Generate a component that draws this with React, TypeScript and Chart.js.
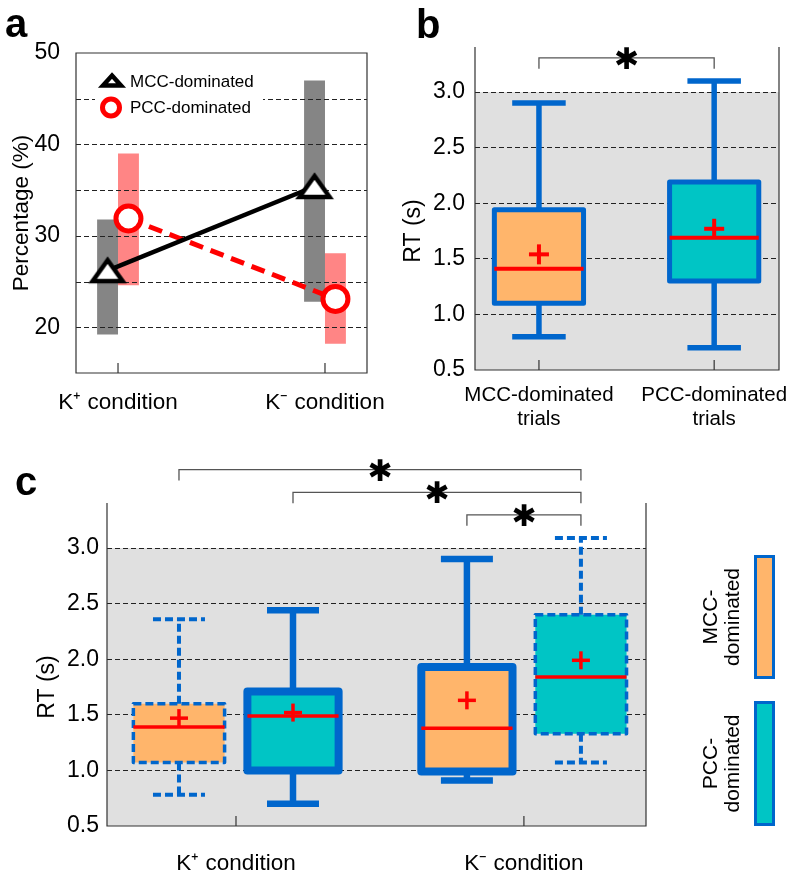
import React, { useEffect, useRef } from 'react';
import { Chart, registerables } from 'chart.js';

Chart.register(...registerables);

const FONT = '"Liberation Sans", Arial, Helvetica, sans-serif';
Chart.defaults.font.family = FONT;
Chart.defaults.color = '#000';

const BLUE = '#0066CC';
const ORANGE = '#FFB56B';
const CYAN = '#00C5C5';
const RED = '#FF0000';
const PANEL_BG = '#E0E0E0';
const GRID = '#222';
const FRAME = '#333';

// ---------------- Panel a : percentage of trials ----------------
const conditions = ['K⁺ condition', 'K⁻ condition'];
const seriesNames = ['MCC-dominated', 'PCC-dominated'];
const mccPercent = [26.2, 35.4];
const pccPercent = [31.9, 23.1];
const mccPercentLow = [19.2, 22.8];
const mccPercentHigh = [31.8, 47.0];
const pccPercentLow = [24.6, 18.2];
const pccPercentHigh = [39.0, 28.1];
const percentTickLabels = [20, 30, 40, 50];

// ---------------- Panel b : RT by trial type ----------------
const trialTypes = [['MCC-dominated', 'trials'], ['PCC-dominated', 'trials']];
const bMin = [0.8, 0.7];
const bQ1 = [1.1, 1.3];
const bMedian = [1.41, 1.69];
const bQ3 = [1.94, 2.19];
const bMax = [2.9, 3.1];
const bMean = [1.54, 1.77];

// ---------------- Panel c : RT by condition and trial type ----------------
const mccMin = [0.78, 0.91];
const mccQ1 = [1.07, 0.99];
const mccMedian = [1.39, 1.38];
const mccQ3 = [1.6, 1.93];
const mccMax = [2.36, 2.9];
const mccMean = [1.47, 1.63];
const pccMin = [0.7, 1.07];
const pccQ1 = [1.0, 1.33];
const pccMedian = [1.49, 1.84];
const pccQ3 = [1.71, 2.4];
const pccMax = [2.44, 3.09];
const pccMean = [1.52, 1.99];
const mccDashed = [true, false];
const pccDashed = [false, true];

const rtTicks = [0.5, 1.0, 1.5, 2.0, 2.5, 3.0];

// significance brackets (box indices, bracket height in s)
const bSigPairs = [[0, 1]];
const bSigLevels = [3.306];
// panel c box order: MCC K+, PCC K+, MCC K-, PCC K-
const cSigPairs = [[0, 3], [1, 3], [2, 3]];
const cSigLevels = [3.705, 3.5, 3.297];
const sigLegDrop = 0.097;
const sigMark = '✱';
const frameTopValue = 3.405;

// ---------------- helpers ----------------
function line(ctx: CanvasRenderingContext2D, x1: number, y1: number, x2: number, y2: number) {
  ctx.beginPath();
  ctx.moveTo(x1, y1);
  ctx.lineTo(x2, y2);
  ctx.stroke();
}

function drawCentered(ctx: CanvasRenderingContext2D, text: string, cx: number, cy: number, font: string) {
  ctx.font = font;
  ctx.textAlign = 'left';
  ctx.textBaseline = 'alphabetic';
  const m = ctx.measureText(text);
  const x0 = cx - (m.actualBoundingBoxRight - m.actualBoundingBoxLeft) / 2;
  const y0 = cy + (m.actualBoundingBoxAscent - m.actualBoundingBoxDescent) / 2;
  ctx.fillText(text, x0, y0);
}

const fixAxis = (w?: number, h?: number) => (s: any) => {
  if (w !== undefined) s.width = w;
  if (h !== undefined) s.height = h;
  s.paddingLeft = 0;
  s.paddingRight = 0;
  s.paddingTop = 0;
  s.paddingBottom = 0;
};

function makeTriangle(w: number, h: number, lw: number) {
  const pad = 10;
  const c = document.createElement('canvas');
  c.width = w + 2 * pad;
  c.height = h + 2 * pad;
  const g = c.getContext('2d')!;
  const cx = c.width / 2;
  const top = (c.height - h) / 2;
  g.lineWidth = lw;
  g.lineJoin = 'miter';
  g.strokeStyle = '#000';
  g.fillStyle = '#fff';
  g.beginPath();
  g.moveTo(cx, top);
  g.lineTo(cx + w / 2, top + h);
  g.lineTo(cx - w / 2, top + h);
  g.closePath();
  g.fill();
  g.stroke();
  return c;
}

const letterPlugin = (letter: string, x: number, y: number) => ({
  id: 'panelLetter',
  afterDraw(chart: any) {
    const ctx = chart.ctx;
    ctx.save();
    ctx.font = `bold 40px ${FONT}`;
    ctx.fillStyle = '#000';
    ctx.textAlign = 'left';
    ctx.textBaseline = 'alphabetic';
    ctx.fillText(letter, x, y);
    ctx.restore();
  },
});

const framePlugin = (closed: boolean) => ({
  id: 'frame',
  afterDraw(chart: any) {
    const { ctx, chartArea, scales } = chart;
    const { left, right, top, bottom } = chartArea;
    ctx.save();
    ctx.strokeStyle = FRAME;
    ctx.lineWidth = 1.2;
    ctx.setLineDash([]);
    ctx.beginPath();
    if (closed) {
      ctx.rect(left, top, right - left, bottom - top);
    } else {
      const t = scales.y.getPixelForValue(frameTopValue);
      ctx.moveTo(left, t);
      ctx.lineTo(left, bottom);
      ctx.lineTo(right, bottom);
      ctx.lineTo(right, t);
    }
    ctx.stroke();
    scales.x.ticks.forEach((tk: any) => {
      const px = scales.x.getPixelForValue(tk.value);
      line(ctx, px, bottom, px, bottom - 10);
    });
    ctx.restore();
  },
});

const bgPlugin = {
  id: 'panelBg',
  beforeDraw(chart: any) {
    const { ctx, chartArea } = chart;
    ctx.save();
    ctx.fillStyle = PANEL_BG;
    ctx.fillRect(chartArea.left, chartArea.top, chartArea.right - chartArea.left, chartArea.bottom - chartArea.top);
    ctx.restore();
  },
};

type BoxStyle = { box: number; whisker: number; cap: number; median: number; plus: number; plusW: number; dash: number[] };
const B_SOLID: BoxStyle = { box: 5, whisker: 5.5, cap: 0.6, median: 4, plus: 10, plusW: 4, dash: [] };
const C_SOLID: BoxStyle = { box: 8, whisker: 6.5, cap: 0.57, median: 3.5, plus: 9, plusW: 3.5, dash: [] };
const C_DASHED: BoxStyle = { box: 3.5, whisker: 4, cap: 0.57, median: 3.5, plus: 9, plusW: 3.5, dash: [8, 4] };

type BoxSpec = { ds: number; i: number; min: number; q1: number; med: number; q3: number; max: number; mean: number; style: BoxStyle };

const boxPlugin = (boxes: BoxSpec[]) => ({
  id: 'boxes',
  afterDatasetsDraw(chart: any) {
    const ctx = chart.ctx;
    const y = chart.scales.y;
    const py = (v: number) => y.getPixelForValue(v);
    boxes.forEach((b) => {
      const el: any = chart.getDatasetMeta(b.ds).data[b.i];
      const x = el.x;
      const w = el.width;
      const st = b.style;
      ctx.save();
      ctx.strokeStyle = BLUE;
      ctx.setLineDash(st.dash);
      ctx.lineCap = 'butt';
      ctx.lineWidth = st.whisker;
      line(ctx, x, py(b.q3), x, py(b.max));
      line(ctx, x, py(b.q1), x, py(b.min));
      const cw = (w * st.cap) / 2;
      line(ctx, x - cw, py(b.max), x + cw, py(b.max));
      line(ctx, x - cw, py(b.min), x + cw, py(b.min));
      ctx.lineWidth = st.box;
      ctx.lineJoin = 'round';
      ctx.strokeRect(x - w / 2, py(b.q3), w, py(b.q1) - py(b.q3));
      ctx.setLineDash([]);
      ctx.strokeStyle = RED;
      ctx.lineWidth = st.median;
      line(ctx, x - w / 2, py(b.med), x + w / 2, py(b.med));
      ctx.lineWidth = st.plusW;
      line(ctx, x - st.plus, py(b.mean), x + st.plus, py(b.mean));
      line(ctx, x, py(b.mean) - st.plus, x, py(b.mean) + st.plus);
      ctx.restore();
    });
  },
});

const sigPlugin = (pairs: number[][], levels: number[], boxes: BoxSpec[]) => ({
  id: 'sig',
  afterDraw(chart: any) {
    const ctx = chart.ctx;
    const y = chart.scales.y;
    const boxX = (k: number) => chart.getDatasetMeta(boxes[k].ds).data[boxes[k].i].x;
    ctx.save();
    ctx.strokeStyle = '#555';
    ctx.lineWidth = 1.3;
    ctx.fillStyle = '#000';
    pairs.forEach(([a, b], n) => {
      const x1 = boxX(a);
      const x2 = boxX(b);
      const yl = y.getPixelForValue(levels[n]);
      const yb = y.getPixelForValue(levels[n] - sigLegDrop);
      ctx.beginPath();
      ctx.moveTo(x1, yb);
      ctx.lineTo(x1, yl);
      ctx.lineTo(x2, yl);
      ctx.lineTo(x2, yb);
      ctx.stroke();
      drawCentered(ctx, sigMark, (x1 + x2) / 2, yl, `30px "DejaVu Sans", ${FONT}`);
    });
    ctx.restore();
  },
});

// ---------------- chart configs ----------------
const BAR_GROUP_A = 0.202;
const MARKER_SHIFT = BAR_GROUP_A / 4;

function configA(): any {
  const tri = makeTriangle(30, 21, 4.5);
  const gridUnderLines = {
    id: 'gridA',
    afterDatasetDraw(chart: any, args: any) {
      if (args.index !== 0) return;
      const { ctx, chartArea, scales } = chart;
      const ys = scales.y;
      ctx.save();
      ctx.strokeStyle = GRID;
      ctx.lineWidth = 1;
      ctx.setLineDash([5, 3]);
      ys.ticks.forEach((t: any) => {
        if (t.value <= ys.min || t.value >= ys.max) return;
        const p = Math.round(ys.getPixelForValue(t.value)) + 0.5;
        line(ctx, chartArea.left, p, chartArea.right, p);
      });
      ctx.restore();
    },
  };
  const legendA = {
    id: 'legendA',
    afterDraw(chart: any) {
      const ctx = chart.ctx;
      const ds = chart.data.datasets;
      ctx.save();
      ctx.fillStyle = '#fff';
      ctx.fillRect(95, 63, 168, 56);
      ctx.lineWidth = 4.5;
      ctx.strokeStyle = '#000';
      ctx.fillStyle = '#fff';
      ctx.lineJoin = 'miter';
      ctx.beginPath();
      ctx.moveTo(112, 75.5);
      ctx.lineTo(121, 85.5);
      ctx.lineTo(103, 85.5);
      ctx.closePath();
      ctx.fill();
      ctx.stroke();
      ctx.lineWidth = 5;
      ctx.strokeStyle = RED;
      ctx.beginPath();
      ctx.arc(111, 107.5, 8.5, 0, Math.PI * 2);
      ctx.fill();
      ctx.stroke();
      ctx.fillStyle = '#000';
      ctx.font = `17px ${FONT}`;
      ctx.textAlign = 'left';
      ctx.textBaseline = 'middle';
      ctx.fillText(ds[2].label, 130, 82);
      ctx.fillText(ds[3].label, 130, 108);
      ctx.restore();
    },
  };
  return {
    type: 'bar',
    data: {
      datasets: [
        {
          type: 'bar',
          label: 'MCC range',
          data: mccPercentLow.map((lo, i) => ({ x: i + 1, y: [lo, mccPercentHigh[i]] })),
          backgroundColor: '#858585',
          borderWidth: 0,
          categoryPercentage: BAR_GROUP_A,
          barPercentage: 1,
          order: 2,
        },
        {
          type: 'bar',
          label: 'PCC range',
          data: pccPercentLow.map((lo, i) => ({ x: i + 1, y: [lo, pccPercentHigh[i]] })),
          backgroundColor: '#FF8585',
          borderWidth: 0,
          categoryPercentage: BAR_GROUP_A,
          barPercentage: 1,
          order: 3,
        },
        {
          type: 'line',
          label: seriesNames[0],
          data: mccPercent.map((v, i) => ({ x: i + 1 - MARKER_SHIFT, y: v })),
          borderColor: '#000',
          borderWidth: 4.5,
          pointStyle: tri,
          pointRadius: 12,
          order: 0,
        },
        {
          type: 'line',
          label: seriesNames[1],
          data: pccPercent.map((v, i) => ({ x: i + 1 + MARKER_SHIFT, y: v })),
          borderColor: RED,
          borderWidth: 5,
          borderDash: [14, 8],
          pointStyle: 'circle',
          pointRadius: 12.5,
          pointBorderWidth: 5,
          pointBackgroundColor: '#fff',
          pointBorderColor: RED,
          order: 1,
        },
      ],
    },
    options: {
      responsive: false,
      animation: false,
      events: [],
      layout: { padding: { top: 53, right: 33, left: 0, bottom: 0 } },
      plugins: { legend: { display: false }, tooltip: { enabled: false } },
      scales: {
        x: {
          type: 'linear',
          min: 0.797,
          max: 2.203,
          offset: false,
          afterBuildTicks: (s: any) => {
            s.ticks = conditions.map((_, i) => ({ value: i + 1 }));
          },
          afterFit: fixAxis(undefined, 57),
          ticks: {
            callback: (v: number) => conditions[Math.round(v) - 1],
            font: { size: 22.5 },
            padding: 8,
            maxRotation: 0,
            autoSkip: false,
            color: '#000',
          },
          grid: { display: false, offset: false },
          border: { display: false },
        },
        y: {
          type: 'linear',
          min: 15,
          max: 50,
          ticks: {
            stepSize: 5,
            callback: (v: number) => (percentTickLabels.includes(v) ? String(v) : ''),
            font: { size: 23 },
            padding: 8,
            color: '#000',
          },
          afterFit: fixAxis(76, undefined),
          grid: { display: false },
          border: { display: false },
          title: { display: true, text: 'Percentage (%)', font: { size: 22.5 }, padding: { top: 8, bottom: 0 }, color: '#000' },
        },
      },
    },
    plugins: [gridUnderLines, legendA, framePlugin(true), letterPlugin('a', 5, 37)],
  };
}

function rtYAxis(width: number, titlePad: number, tickSize: number) {
  return {
    type: 'linear',
    min: rtTicks[0],
    max: rtTicks[rtTicks.length - 1],
    afterBuildTicks: (s: any) => {
      s.ticks = rtTicks.map((v) => ({ value: v }));
    },
    afterFit: fixAxis(width, undefined),
    ticks: { callback: (v: number) => v.toFixed(1), font: { size: tickSize }, padding: width === 75 ? 10 : 8, color: '#000' },
    grid: {
      color: (c: any) => (c.tick && c.tick.value === rtTicks[0] ? 'rgba(0,0,0,0)' : GRID),
      lineWidth: 1,
      drawTicks: false,
    },
    border: { display: false, dash: [5, 3] },
    title: { display: true, text: 'RT (s)', font: { size: 23 }, padding: { top: titlePad, bottom: 0 }, color: '#000' },
  };
}

function configB(): any {
  const boxes: BoxSpec[] = bQ1.map((_, i) => ({
    ds: 0,
    i,
    min: bMin[i],
    q1: bQ1[i],
    med: bMedian[i],
    q3: bQ3[i],
    max: bMax[i],
    mean: bMean[i],
    style: B_SOLID,
  }));
  return {
    type: 'bar',
    data: {
      datasets: [
        {
          label: 'RT',
          data: bQ1.map((q, i) => ({ x: i + 1, y: [q, bQ3[i]] })),
          backgroundColor: [ORANGE, CYAN],
          borderWidth: 0,
          barPercentage: 0.509,
          categoryPercentage: 1,
        },
      ],
    },
    options: {
      responsive: false,
      animation: false,
      events: [],
      layout: { padding: { top: 92, right: 8, left: 0, bottom: 0 } },
      plugins: { legend: { display: false }, tooltip: { enabled: false } },
      scales: {
        x: {
          type: 'linear',
          min: 0.635,
          max: 2.37,
          offset: false,
          afterBuildTicks: (s: any) => {
            s.ticks = trialTypes.map((_, i) => ({ value: i + 1 }));
          },
          afterFit: fixAxis(undefined, 60),
          ticks: {
            callback: (v: number) => trialTypes[Math.round(v) - 1],
            font: { size: 20.5, lineHeight: 1.15 },
            padding: 6,
            maxRotation: 0,
            autoSkip: false,
            color: '#000',
          },
          grid: { display: false, offset: false },
          border: { display: false },
        },
        y: rtYAxis(75, 0, 23),
      },
    },
    plugins: [bgPlugin, boxPlugin(boxes), framePlugin(false), sigPlugin(bSigPairs, bSigLevels, boxes), letterPlugin('b', 16, 38)],
  };
}

function configC(): any {
  const boxes: BoxSpec[] = [];
  conditions.forEach((_, i) => {
    boxes.push({ ds: 0, i, min: mccMin[i], q1: mccQ1[i], med: mccMedian[i], q3: mccQ3[i], max: mccMax[i], mean: mccMean[i], style: mccDashed[i] ? C_DASHED : C_SOLID });
    boxes.push({ ds: 1, i, min: pccMin[i], q1: pccQ1[i], med: pccMedian[i], q3: pccQ3[i], max: pccMax[i], mean: pccMean[i], style: pccDashed[i] ? C_DASHED : C_SOLID });
  });
  const legendC = {
    id: 'legendC',
    afterDraw(chart: any) {
      const ctx = chart.ctx;
      const ds = chart.data.datasets;
      const items = [
        { color: ORANGE, rect: [755.5, 116.5, 18, 121], cy: 177, name: ds[0].label },
        { color: CYAN, rect: [755.5, 262.5, 18, 122], cy: 323.5, name: ds[1].label },
      ];
      ctx.save();
      items.forEach((it) => {
        const [x, y, w, h] = it.rect;
        ctx.fillStyle = it.color;
        ctx.fillRect(x, y, w, h);
        ctx.strokeStyle = BLUE;
        ctx.lineWidth = 3;
        ctx.strokeRect(x, y, w, h);
        const [l1, l2] = it.name.split('-');
        ctx.save();
        ctx.translate(724, it.cy);
        ctx.rotate(-Math.PI / 2);
        ctx.fillStyle = '#000';
        ctx.font = `21px ${FONT}`;
        ctx.textAlign = 'center';
        ctx.textBaseline = 'alphabetic';
        ctx.fillText(l1 + '-', 0, -7);
        ctx.fillText(l2, 0, 15);
        ctx.restore();
      });
      ctx.restore();
    },
  };
  return {
    type: 'bar',
    data: {
      datasets: [
        {
          label: seriesNames[0],
          data: mccQ1.map((q, i) => ({ x: i + 1, y: [q, mccQ3[i]] })),
          backgroundColor: ORANGE,
          borderWidth: 0,
          barPercentage: 0.8,
          categoryPercentage: 0.792,
        },
        {
          label: seriesNames[1],
          data: pccQ1.map((q, i) => ({ x: i + 1, y: [q, pccQ3[i]] })),
          backgroundColor: CYAN,
          borderWidth: 0,
          barPercentage: 0.8,
          categoryPercentage: 0.792,
        },
      ],
    },
    options: {
      responsive: false,
      animation: false,
      events: [],
      layout: { padding: { top: 108, right: 141, left: 0, bottom: 0 } },
      plugins: { legend: { display: false }, tooltip: { enabled: false } },
      scales: {
        x: {
          type: 'linear',
          min: 0.552,
          max: 2.424,
          offset: false,
          afterBuildTicks: (s: any) => {
            s.ticks = conditions.map((_, i) => ({ value: i + 1 }));
          },
          afterFit: fixAxis(undefined, 45),
          ticks: {
            callback: (v: number) => conditions[Math.round(v) - 1],
            font: { size: 22.5 },
            padding: 16,
            maxRotation: 0,
            autoSkip: false,
            color: '#000',
          },
          grid: { display: false, offset: false },
          border: { display: false },
        },
        y: rtYAxis(107, 34, 23),
      },
    },
    plugins: [bgPlugin, boxPlugin(boxes), framePlugin(false), sigPlugin(cSigPairs, cSigLevels, boxes), legendC, letterPlugin('c', 15, 55)],
  };
}

export default function App() {
  const aRef = useRef<HTMLCanvasElement>(null);
  const bRef = useRef<HTMLCanvasElement>(null);
  const cRef = useRef<HTMLCanvasElement>(null);
  useEffect(() => {
    const charts = [
      new Chart(aRef.current as HTMLCanvasElement, configA()),
      new Chart(bRef.current as HTMLCanvasElement, configB()),
      new Chart(cRef.current as HTMLCanvasElement, configC()),
    ];
    return () => charts.forEach((c) => c.destroy());
  }, []);
  return (
    <div style={{ position: 'absolute', left: 0, top: 0, width: 787, height: 871, background: '#fff' }}>
      <canvas ref={aRef} width={400} height={430} style={{ position: 'absolute', left: 0, top: 0 }} />
      <canvas ref={bRef} width={387} height={430} style={{ position: 'absolute', left: 400, top: 0 }} />
      <canvas ref={cRef} width={787} height={431} style={{ position: 'absolute', left: 0, top: 440 }} />
    </div>
  );
}
